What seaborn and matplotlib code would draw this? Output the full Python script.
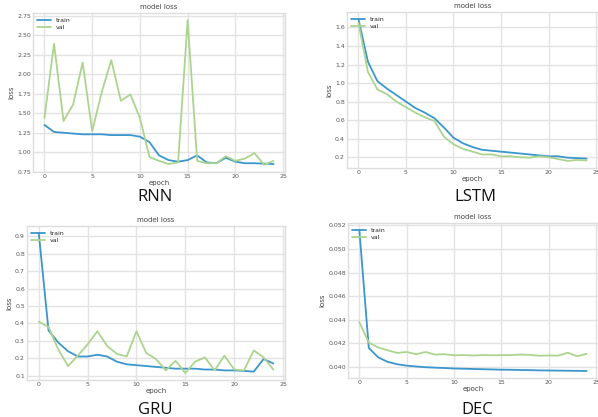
import numpy as np
import pandas as pd
import seaborn as sns
import matplotlib
matplotlib.use("Agg")
import matplotlib.pyplot as plt

epochs = list(range(25))

# loss curves
rnn_train = [1.35, 1.26, 1.25, 1.24, 1.23, 1.23, 1.23, 1.22, 1.22, 1.22, 1.20, 1.13, 0.96,
             0.90, 0.88, 0.90, 0.96, 0.87, 0.86, 0.93, 0.88, 0.86, 0.86, 0.855, 0.85]
rnn_val = [1.44, 2.39, 1.40, 1.61, 2.15, 1.27, 1.77, 2.18, 1.66, 1.74, 1.44, 0.94, 0.89,
           0.85, 0.87, 2.69, 0.89, 0.86, 0.86, 0.95, 0.89, 0.92, 0.99, 0.84, 0.89]

lstm_train = [1.69, 1.23, 1.02, 0.94, 0.87, 0.80, 0.73, 0.68, 0.62, 0.52, 0.41, 0.35, 0.31,
              0.28, 0.27, 0.26, 0.25, 0.24, 0.23, 0.22, 0.21, 0.21, 0.195, 0.19, 0.185]
lstm_val = [1.65, 1.12, 0.93, 0.88, 0.80, 0.74, 0.68, 0.63, 0.59, 0.42, 0.34, 0.29, 0.26,
            0.23, 0.23, 0.21, 0.21, 0.20, 0.195, 0.21, 0.20, 0.18, 0.16, 0.17, 0.165]

gru_train = [0.92, 0.36, 0.29, 0.24, 0.21, 0.21, 0.22, 0.21, 0.18, 0.165, 0.16, 0.155, 0.15,
             0.145, 0.14, 0.14, 0.14, 0.135, 0.135, 0.13, 0.13, 0.127, 0.123, 0.195, 0.17]
gru_val = [0.41, 0.38, 0.25, 0.155, 0.215, 0.28, 0.355, 0.27, 0.225, 0.21, 0.355, 0.23, 0.195,
           0.13, 0.185, 0.115, 0.18, 0.205, 0.13, 0.215, 0.135, 0.13, 0.245, 0.205, 0.135]

dec_train = [0.0516, 0.0416, 0.0408, 0.04042, 0.04022, 0.0401, 0.04003, 0.03997, 0.03993,
             0.0399, 0.03986, 0.03984, 0.03982, 0.0398, 0.03978, 0.03976, 0.03975, 0.03973,
             0.03972, 0.0397, 0.03969, 0.03968, 0.03967, 0.03966, 0.03965]
dec_val = [0.04379, 0.04206, 0.04164, 0.0414, 0.04118, 0.04126, 0.04107, 0.04126, 0.04104,
           0.04107, 0.04098, 0.041, 0.04096, 0.041, 0.04098, 0.04099, 0.041, 0.04104, 0.04102,
           0.04094, 0.04096, 0.04095, 0.0412, 0.0409, 0.0411]

panels = [
    ("RNN", rnn_train, rnn_val, [0.0552, 0.5875, 0.4214, 0.3813], (155, 197)),
    ("LSTM", lstm_train, lstm_val, [0.5803, 0.5971, 0.4197, 0.3741], (475, 197)),
    ("GRU", gru_train, gru_val, [0.0452, 0.0887, 0.4314, 0.3693], (155, 410)),
    ("DEC", dec_train, dec_val, [0.5819, 0.0935, 0.4180, 0.3717], (477, 410)),
]

sns.set_theme(style="whitegrid", rc={
    "axes.edgecolor": "#dddddd",
    "grid.color": "#e3e3e3",
    "axes.linewidth": 1.0,
})
plt.rcParams["font.family"] = ["DejaVu Sans"]

fig = plt.figure(figsize=(5.98, 4.17), dpi=100)

for name, train, val, rect, cap in panels:
    ax = fig.add_axes(rect)
    sns.lineplot(x=epochs, y=train, ax=ax, label="train", color="#3a96cc", linewidth=1.3)
    sns.lineplot(x=epochs, y=val, ax=ax, label="val", color="#acd48f", linewidth=1.3)
    ax.set_title("model loss", fontsize=5, color="#444444", pad=3)
    ax.set_xlabel("epoch", fontsize=5, color="#444444", labelpad=1)
    ax.set_ylabel("loss", fontsize=5, color="#444444", labelpad=2)
    ax.set_xticks([0, 5, 10, 15, 20, 25])
    ax.tick_params(labelsize=4.5, colors="#555555", pad=1.5, length=0)
    ax.legend(loc="upper left", frameon=False, fontsize=4.5, handlelength=2.2,
              borderaxespad=0.3, labelspacing=0.3)
    fig.text(cap[0] / 598, 1 - cap[1] / 417, name, ha="center", va="center",
             fontsize=12, family="Open Sans", color="#111111")

fig.savefig("out.png", dpi=100)
